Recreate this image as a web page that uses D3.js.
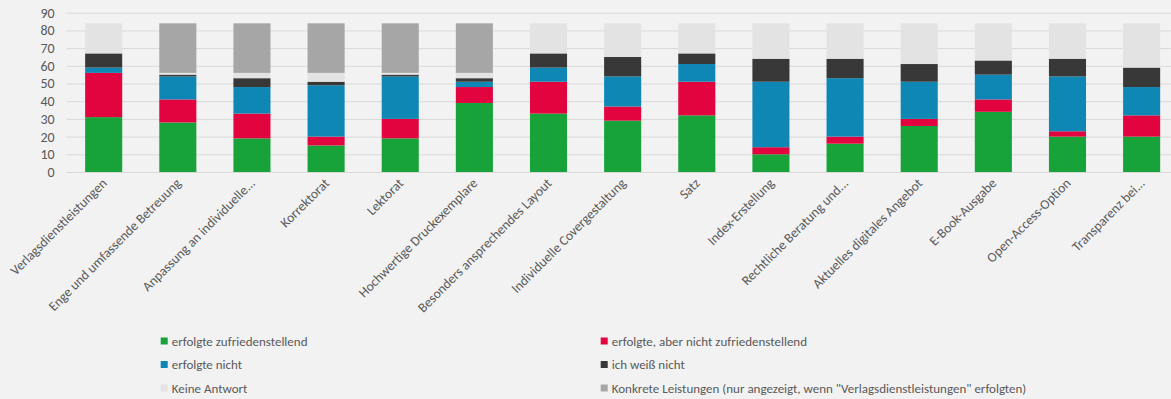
<!DOCTYPE html>
<html>
<head>
<meta charset="utf-8">
<script src="https://cdn.jsdelivr.net/npm/d3@7"></script>
<style>
  html, body { margin: 0; padding: 0; background: #f2f2f2; }
  svg { display: block; }
  text { font-family: Carlito, "Liberation Sans Narrow", Lato, sans-serif; fill: #595959; }
</style>
</head>
<body>
<svg id="chart" width="1171" height="399"></svg>
<script>
const categories = [
  "Verlagsdienstleistungen",
  "Enge und umfassende Betreuung",
  "Anpassung an individuelle...",
  "Korrektorat",
  "Lektorat",
  "Hochwertige Druckexemplare",
  "Besonders ansprechendes Layout",
  "Individuelle Covergestaltung",
  "Satz",
  "Index-Erstellung",
  "Rechtliche Beratung und...",
  "Aktuelles digitales Angebot",
  "E-Book-Ausgabe",
  "Open-Access-Option",
  "Transparenz bei..."
];
const seriesNames = [
  "erfolgte zufriedenstellend",
  "erfolgte, aber nicht zufriedenstellend",
  "erfolgte nicht",
  "ich weiß nicht",
  "Keine Antwort",
  "Konkrete Leistungen (nur angezeigt, wenn \"Verlagsdienstleistungen\" erfolgten)"
];
const seriesColors = ["#17a339", "#e2043f", "#0f87b5", "#383838", "#e3e3e3", "#a6a6a6"];
const satisfied    = [31, 28, 19, 15, 19, 39, 33, 29, 32, 10, 16, 26, 34, 20, 20];
const notSatisfied = [25, 13, 14,  5, 11,  9, 18,  8, 19,  4,  4,  4,  7,  3, 12];
const notDone      = [ 3, 13, 15, 29, 24,  3,  8, 17, 10, 37, 33, 21, 14, 31, 16];
const dontKnow     = [ 8,  1,  5,  2,  1,  2,  8, 11,  6, 13, 11, 10,  8, 10, 11];
const noAnswer     = [17,  1,  3,  5,  1,  3, 17, 19, 17, 20, 20, 23, 21, 20, 25];
const concrete     = [ 0, 28, 28, 28, 28, 28,  0,  0,  0,  0,  0,  0,  0,  0,  0];
const yTicks = [0, 10, 20, 30, 40, 50, 60, 70, 80, 90];

const seriesValues = [satisfied, notSatisfied, notDone, dontKnow, noAnswer, concrete];
const keys = seriesNames;
const table = categories.map((c, i) => {
  const row = { category: c };
  keys.forEach((k, j) => row[k] = seriesValues[j][i]);
  return row;
});

const svg = d3.select("#chart");
const W = 1171, H = 399;
svg.append("rect").attr("width", W).attr("height", H).attr("fill", "#f2f2f2");

const plotLeft = 66.6, plotRight = 1178.7, plotTop = 12.7, plotBottom = 172;
const x = d3.scaleBand().domain(categories).range([plotLeft, plotRight]).paddingInner(0.5).paddingOuter(0.25);
const y = d3.scaleLinear().domain([0, 90]).range([plotBottom, plotTop]);
const FONT = 'Carlito, "Liberation Sans Narrow", Lato, sans-serif';

// gridlines
const grid = svg.append("g").attr("transform", `translate(${plotLeft},0)`)
  .call(d3.axisLeft(y).tickValues(yTicks).tickSize(-(W - plotLeft)).tickFormat(""));
grid.select(".domain").remove();
grid.selectAll("line").attr("stroke", "#d9d9d9").attr("stroke-width", 1);

// y axis labels
const yAxis = svg.append("g").attr("transform", `translate(${plotLeft},0)`)
  .call(d3.axisLeft(y).tickValues(yTicks).tickSize(0).tickPadding(12));
yAxis.select(".domain").remove();
yAxis.selectAll("text").attr("font-size", 14).attr("fill", "#595959").style("font-family", FONT);

// stacks
const stacked = d3.stack().keys(keys)(table);
svg.append("g").selectAll("g").data(stacked).join("g")
  .attr("fill", (d, i) => seriesColors[i])
  .selectAll("rect").data(d => d).join("rect")
  .attr("x", d => x(d.data.category))
  .attr("width", x.bandwidth())
  .attr("y", d => y(d[1]))
  .attr("height", d => y(d[0]) - y(d[1]));

// x axis labels
const xAxis = svg.append("g").attr("transform", `translate(0,${plotBottom})`)
  .call(d3.axisBottom(x).tickSize(0).tickPadding(0));
xAxis.select(".domain").remove();
xAxis.selectAll(".tick text")
  .attr("font-size", 13.5)
  .attr("fill", "#595959")
  .style("font-family", FONT)
  .attr("text-anchor", "end")
  .attr("dy", 0)
  .attr("y", 0)
  .attr("transform", "translate(4,12) rotate(-45)");

// legend
const legendPos = [
  [160.7, 341], [600.7, 341],
  [160.7, 364.5], [600.7, 364.5],
  [160.7, 388], [600.7, 388]
];
const legend = svg.append("g").selectAll("g").data(keys).join("g")
  .attr("transform", (d, i) => `translate(${legendPos[i][0]},${legendPos[i][1]})`);
legend.append("rect").attr("x", 0).attr("y", -3.5).attr("width", 7).attr("height", 7)
  .attr("fill", (d, i) => seriesColors[i]);
legend.append("text").attr("x", 11).attr("y", 0).attr("dy", "0.35em")
  .attr("font-size", 13).style("font-family", FONT).text(d => d);
</script>
</body>
</html>
